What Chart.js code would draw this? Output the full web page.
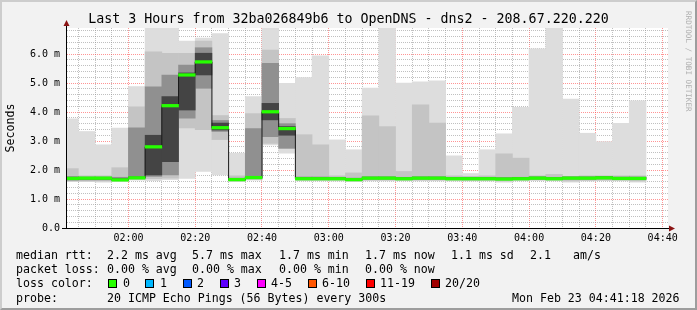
<!DOCTYPE html>
<html>
<head>
<meta charset="utf-8">
<script src="https://cdn.jsdelivr.net/npm/chart.js@4.4.1/dist/chart.umd.min.js"></script>
<style>
  html, body { margin: 0; padding: 0; background: #f2f2f2; }
  #wrap { position: relative; width: 697px; height: 310px; background: #f2f2f2; overflow: hidden;
          font-family: 'DejaVu Sans Mono', monospace; color: #000; }
  #chart { position: absolute; left: 0; top: 0; }
  #frame { position: absolute; left: 0; top: 0; width: 697px; height: 310px; box-sizing: border-box;
           border-top: 2px solid #cdcdcd; border-left: 2px solid #cdcdcd;
           border-right: 2px solid #9d9d9d; border-bottom: 2px solid #9d9d9d; pointer-events: none; }
  .t { position: absolute; font-size: 11.6px; line-height: 14px; white-space: pre; }
  .sq { position: absolute; width: 9px; height: 9px; box-sizing: border-box; border: 1px solid #000; top: 279px; }
  #credit { position: absolute; left: 684px; top: 11px; font-size: 7.6px; color: #b0b0b0;
            writing-mode: vertical-rl; white-space: pre; }
</style>
</head>
<body>
<div id="wrap">
  <canvas id="chart" width="697" height="310"></canvas>
  <div id="credit">RRDTOOL / TOBI OETIKER</div>

  <span class="t" style="left:16px;top:248px">median rtt:</span>
  <span class="t" style="left:107px;top:248px">2.2 ms avg</span>
  <span class="t" style="left:192px;top:248px">5.7 ms max</span>
  <span class="t" style="left:279px;top:248px">1.7 ms min</span>
  <span class="t" style="left:365px;top:248px">1.7 ms now</span>
  <span class="t" style="left:451px;top:248px">1.1 ms sd</span>
  <span class="t" style="left:530px;top:248px">2.1</span>
  <span class="t" style="left:573px;top:248px">am/s</span>

  <span class="t" style="left:16px;top:262px">packet loss:</span>
  <span class="t" style="left:107px;top:262px">0.00 % avg</span>
  <span class="t" style="left:192px;top:262px">0.00 % max</span>
  <span class="t" style="left:279px;top:262px">0.00 % min</span>
  <span class="t" style="left:365px;top:262px">0.00 % now</span>

  <span class="t" style="left:16px;top:276px">loss color:</span>
  <div id="lossKeys"></div>

  <span class="t" style="left:16px;top:291px">probe:</span>
  <span class="t" style="left:107px;top:291px">20 ICMP Echo Pings (56 Bytes) every 300s</span>
  <span class="t" style="left:512px;top:291px">Mon Feb 23 04:41:18 2026</span>
  <div id="frame"></div>
</div>
<script>
// 5 minute slots (start time), values in ms
var slotStart = ['01:40','01:45','01:50','01:55','02:00','02:05','02:10','02:15','02:20','02:25',
                 '02:30','02:35','02:40','02:45','02:50','02:55','03:00','03:05','03:10','03:15',
                 '03:20','03:25','03:30','03:35','03:40','03:45','03:50','03:55','04:00','04:05',
                 '04:10','04:15','04:20','04:25','04:30'];

var medianMs = [1.71,1.72,1.72,1.66,1.73,2.80,4.22,5.28,5.73,3.46,
                1.67,1.74,4.01,3.43,1.70,1.70,1.70,1.67,1.72,1.72,
                1.70,1.72,1.72,1.70,1.70,1.70,1.69,1.70,1.72,1.70,
                1.72,1.72,1.73,1.71,1.71];

// smoke: outer range (all pings) and three inner ranges
var pingMin = [1.60,1.60,1.58,1.60,1.65,1.63,1.67,1.71,1.95,1.83,
               1.60,1.65,2.87,2.58,1.62,1.62,1.62,1.60,1.62,1.62,
               1.62,1.62,1.62,1.62,1.62,1.62,1.58,1.62,1.63,1.62,
               1.58,1.62,1.63,1.62,1.58];
var pingMax = [3.77,3.33,2.87,3.45,4.88,7.00,7.00,6.45,6.55,6.71,
               2.58,4.53,7.00,4.99,5.19,5.94,3.04,2.70,4.83,7.00,
               5.00,5.04,5.08,2.49,1.88,2.70,3.25,4.16,6.18,7.00,
               4.45,3.27,2.98,3.61,4.39];
var band2Lo = [1.62,1.62,1.62,1.62,1.68,1.70,1.72,3.45,3.39,3.05,
               1.62,1.68,2.92,2.75,1.65,1.65,1.65,1.62,1.65,1.65,
               1.65,1.65,1.65,1.65,1.64,1.64,1.62,1.65,1.66,1.65,
               1.62,1.64,1.65,1.65,1.62];
var band2Hi = [2.05,1.80,1.80,2.08,4.18,6.08,6.03,6.03,6.45,3.88,
               1.80,3.95,6.14,3.78,3.22,2.87,1.80,1.90,3.87,3.50,
               1.95,4.25,3.62,1.80,1.78,1.80,2.56,2.41,1.80,1.85,
               1.78,1.80,1.80,1.80,1.80];
var band3Lo = [1.65,1.66,1.66,1.64,1.70,1.78,1.83,3.79,4.82,3.33,
               1.64,1.70,3.15,2.75,1.67,1.67,1.67,1.64,1.68,1.68,
               1.67,1.68,1.68,1.67,1.67,1.67,1.66,1.67,1.68,1.67,
               1.68,1.68,1.69,1.68,1.68];
var band3Hi = [1.78,1.76,1.76,1.75,3.46,4.87,5.28,5.62,6.22,3.71,
               1.72,3.43,5.68,3.60,1.76,1.76,1.75,1.72,1.77,1.77,
               1.75,1.77,1.77,1.75,1.75,1.75,1.74,1.75,1.77,1.75,
               1.77,1.77,1.78,1.76,1.76];
var band4Lo = [1.68,1.69,1.69,1.65,1.72,1.83,2.29,4.07,5.28,3.38,
               1.65,1.72,3.73,3.20,1.68,1.68,1.68,1.65,1.70,1.70,
               1.68,1.70,1.70,1.68,1.68,1.68,1.67,1.68,1.70,1.68,
               1.70,1.70,1.71,1.69,1.69];
var band4Hi = [1.74,1.74,1.74,1.70,1.76,3.20,4.53,5.35,6.03,3.62,
               1.69,1.76,4.30,3.50,1.73,1.73,1.73,1.70,1.75,1.75,
               1.73,1.75,1.75,1.73,1.73,1.73,1.72,1.73,1.75,1.73,
               1.75,1.75,1.76,1.74,1.74];

var yTicks = [0, 1, 2, 3, 4, 5, 6];
var xTickLabels = ['02:00','02:20','02:40','03:00','03:20','03:40','04:00','04:20','04:40'];
var lossLabels = ['0','1','2','3','4-5','6-10','11-19','20/20'];
var lossColors = ['#26ff00','#00b8ff','#0059ff','#5e00ff','#ff00fe','#ff5500','#ff0000','#a10000'];

var monoFont = "'DejaVu Sans Mono', monospace";

// loss colour keys
var keyX = [108, 145, 183, 220, 257, 308, 366, 431];
var keyTextX = [123, 160, 197, 234, 271, 322, 380, 445];
var keys = document.getElementById('lossKeys');
lossLabels.forEach(function (lab, i) {
  var sq = document.createElement('div');
  sq.className = 'sq';
  sq.style.left = keyX[i] + 'px';
  sq.style.background = lossColors[i];
  keys.appendChild(sq);
  var tx = document.createElement('span');
  tx.className = 't';
  tx.style.left = keyTextX[i] + 'px';
  tx.style.top = '276px';
  tx.textContent = lab;
  keys.appendChild(tx);
});

function toMin(s) { return parseInt(s.slice(0, 2), 10) * 60 + parseInt(s.slice(3), 10); }

var tMid = slotStart.map(function (s) { return toMin(s) + 2.5; });
function band(lo, hi) {
  return tMid.map(function (x, i) { return { x: x, y: [lo[i], hi[i]] }; });
}
var greenData = tMid.map(function (x, i) { return { x: x, y: [medianMs[i] - 0.045, medianMs[i] + 0.045] }; });
var stepData = slotStart.map(function (s, i) { return { x: toMin(s), y: medianMs[i] }; });
stepData.push({ x: toMin(slotStart[slotStart.length - 1]) + 5, y: medianMs[medianMs.length - 1] });

function barSet(data, color, order) {
  return { type: 'bar', data: data, backgroundColor: color, borderWidth: 0, grouped: false,
           barPercentage: 1, categoryPercentage: 1, order: order, xAxisID: 'x', yAxisID: 'y' };
}

function isWhole(v) { return Math.abs(v - Math.round(v)) < 1e-6; }
var majorCol = 'rgba(255,60,60,0.55)';
var minorCol = 'rgba(140,140,140,0.55)';

var rrdPlugin = {
  id: 'rrd',
  beforeDraw: function (chart) {
    var a = chart.chartArea, ctx = chart.ctx;
    ctx.save();
    ctx.fillStyle = '#ffffff';
    ctx.fillRect(a.left, a.top, a.right - a.left, a.bottom - a.top);
    ctx.restore();
  },
  afterDraw: function (chart) {
    var a = chart.chartArea, ctx = chart.ctx;
    ctx.save();
    ctx.strokeStyle = '#000';
    ctx.lineWidth = 1;
    ctx.beginPath();
    ctx.moveTo(62, a.bottom + 0.5);
    ctx.lineTo(a.right + 2, a.bottom + 0.5);
    ctx.moveTo(a.left - 0.5, a.bottom + 1);
    ctx.lineTo(a.left - 0.5, a.top - 3);
    ctx.stroke();
    ctx.fillStyle = '#8b1414';
    ctx.beginPath();
    ctx.moveTo(a.left - 0.5, a.top - 8);
    ctx.lineTo(a.left - 3.5, a.top - 2);
    ctx.lineTo(a.left + 2.5, a.top - 2);
    ctx.closePath();
    ctx.fill();
    ctx.beginPath();
    ctx.moveTo(a.right + 7, a.bottom + 0.5);
    ctx.lineTo(a.right + 1, a.bottom - 2.5);
    ctx.lineTo(a.right + 1, a.bottom + 3.5);
    ctx.closePath();
    ctx.fill();
    ctx.restore();
  }
};

var config = {
  type: 'bar',
  data: {
    datasets: [
      barSet(greenData, '#26ff00', 0),
      { type: 'line', data: stepData, stepped: true, borderColor: '#1a1a1a', borderWidth: 1,
        pointRadius: 0, fill: false, order: 1, xAxisID: 'x', yAxisID: 'y' },
      barSet(band(band4Lo, band4Hi), '#444444', 2),
      barSet(band(band3Lo, band3Hi), '#909090', 3),
      barSet(band(band2Lo, band2Hi), '#c4c4c4', 4),
      barSet(band(pingMin, pingMax), '#dddddd', 5)
    ]
  },
  options: {
    responsive: false,
    animation: false,
    events: [],
    layout: { padding: { left: 0, right: 0, top: 0, bottom: 62 } },
    plugins: {
      legend: { display: false },
      tooltip: { enabled: false },
      title: {
        display: true,
        text: 'Last 3 Hours from 32ba026849b6 to OpenDNS - dns2 - 208.67.220.220',
        color: '#000',
        font: { family: monoFont, size: 13.3, weight: 'normal', lineHeight: 1 },
        padding: { top: 13, bottom: 1.7 }
      }
    },
    scales: {
      x: {
        type: 'linear',
        min: 101.6,
        max: 281.6,
        offset: false,
        z: 1,
        grid: {
          offset: false,
          drawTicks: false,
          lineWidth: 1,
          color: function (c) { return c.tick && c.tick.value % 20 === 0 ? majorCol : minorCol; }
        },
        border: { display: false, dash: [1, 1] },
        afterBuildTicks: function (s) {
          var t = [];
          for (var v = 105; v <= 280; v += 5) t.push({ value: v });
          s.ticks = t;
        },
        ticks: {
          autoSkip: false,
          maxRotation: 0,
          padding: 4,
          color: '#000',
          font: { family: monoFont, size: 10 },
          callback: function (v) { return v % 20 === 0 ? xTickLabels[(v - 120) / 20] : ''; }
        },
        afterFit: function (s) { s.height = 20; }
      },
      y: {
        type: 'linear',
        min: 0,
        max: 6.9,
        z: 1,
        grid: {
          drawTicks: false,
          lineWidth: 1,
          color: function (c) { return c.tick && isWhole(c.tick.value) ? majorCol : minorCol; }
        },
        border: { display: false, dash: [1, 1] },
        ticks: {
          stepSize: 0.2,
          includeBounds: false,
          autoSkip: false,
          padding: 7,
          color: '#000',
          font: { family: monoFont, size: 10 },
          callback: function (v) {
            if (!isWhole(v) || yTicks.indexOf(Math.round(v)) < 0) return '';
            return Math.round(v) === 0 ? '0.0' : Math.round(v).toFixed(1) + ' m';
          }
        },
        title: {
          display: true,
          text: 'Seconds',
          color: '#000',
          font: { family: monoFont, size: 11.6 },
          padding: { top: 4, bottom: 0 }
        },
        afterFit: function (s) { s.width = 67; }
      },
      yRight: {
        type: 'linear',
        position: 'right',
        display: true,
        grid: { display: false, drawTicks: false },
        border: { display: false },
        ticks: { display: false },
        afterFit: function (s) { s.width = 29; }
      }
    }
  },
  plugins: [rrdPlugin]
};

var canvasElement = document.getElementById('chart');
var myChart = new Chart(canvasElement, config);
</script>
</body>
</html>
